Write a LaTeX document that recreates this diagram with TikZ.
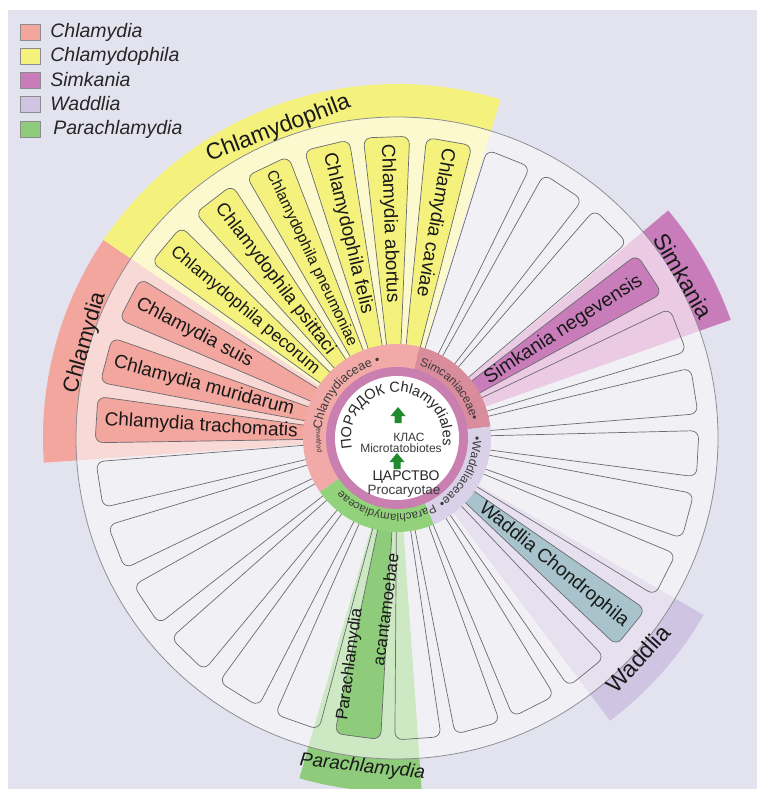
\documentclass[tikz,border=0pt]{standalone}
\usepackage{fontspec}
\setmainfont{Liberation Sans}
\usetikzlibrary{decorations.text,positioning}

\definecolor{bgcol}{HTML}{E3E3EF}
\definecolor{disccol}{HTML}{F1F1F5}
\definecolor{rimcol}{HTML}{8E8E96}
\definecolor{boxline}{HTML}{6A6A70}
\definecolor{chlcol}{HTML}{F2A69D}
\definecolor{chllight}{HTML}{F9D9D5}
\definecolor{phicol}{HTML}{F4F27C}
\definecolor{philight}{HTML}{FBF9CD}
\definecolor{simcol}{HTML}{C87DBA}
\definecolor{simlight}{HTML}{EBCBE4}
\definecolor{wadcol}{HTML}{CFC5E3}
\definecolor{wadlight}{HTML}{E7E1EF}
\definecolor{wadbox}{HTML}{A8C3CB}
\definecolor{parcol}{HTML}{8ECB7B}
\definecolor{parlight}{HTML}{CDE9C4}
\definecolor{ringcol}{HTML}{C97FB0}
\definecolor{famchl}{HTML}{F2AAA8}
\definecolor{famsim}{HTML}{D98C9C}
\definecolor{famwad}{HTML}{D9D1E7}
\definecolor{fampar}{HTML}{92D27A}
\definecolor{arrowgreen}{HTML}{1F8A2E}
\definecolor{labelgray}{HTML}{3A3A3A}

% annular piece: style, start angle, end angle, inner radius, outer radius
\newcommand\ringpart[5]{\path[#1] (#2:#4pt) arc[start angle=#2, end angle=#3, radius=#4pt]
  -- (#3:#5pt) arc[start angle=#3, end angle=#2, radius=#5pt] -- cycle;}
% one species box at a given angle
\newcommand\petal[2]{\draw[#1] ({#2-4.4}:80pt) -- ({#2-4.4}:302pt) -- ({#2+4.4}:302pt) -- ({#2+4.4}:80pt) -- cycle;}

\begin{document}
\begin{tikzpicture}[x=1pt, y=1pt]
\tikzset{
emptybox/.style={draw=boxline, line width=0.7pt, rounded corners=8pt},
chlbox/.style={emptybox, fill=chlcol},
phibox/.style={emptybox, fill=phicol},
simbox/.style={emptybox, fill=simcol},
wadbox/.style={emptybox, fill=wadbox},
parbox/.style={emptybox, fill=parcol},
sp/.style={font=\fontsize{19}{19}\selectfont, inner sep=0pt, text=black!90},
grp/.style={font=\fontsize{23}{23}\selectfont, inner sep=0pt, text=black!90},
famlabel/.style={decorate, decoration={text along path, text align=center}},
upmark/.style={fill=arrowgreen},
legbox/.style={draw=black!45, minimum width=20pt, minimum height=16pt, inner sep=0pt},
legtext/.style={font=\fontsize{19.5}{20}\selectfont\itshape, inner sep=0pt, text=black!85},
}
\useasboundingbox (0,0) rectangle (757,-789);
\fill[bgcol] (8,-10) rectangle (757,-789);

\begin{scope}[shift={(397,-438)}]
% disc
\fill[disccol] (0,0) circle[radius=321pt];
% light wedges and outer bands
\ringpart{fill=chllight}{146}{184}{80}{321}
\ringpart{fill=philight}{73}{146}{80}{321}
\ringpart{fill=simlight}{19.5}{40}{80}{321}
\ringpart{fill=wadlight}{-53}{-30}{80}{321}
\ringpart{fill=parlight}{-106}{-86}{80}{321}
\ringpart{fill=chlcol}{146}{184}{321}{354}
\ringpart{fill=phicol}{73}{146}{321}{354}
\ringpart{fill=simcol}{19.5}{40}{321}{354}
\ringpart{fill=wadcol}{-53}{-30}{321}{354}
\ringpart{fill=parcol}{-106}{-86}{321}{354}
\draw[rimcol, line width=0.8pt] (0,0) circle[radius=321pt];

% boxes
\foreach \a in {68.25,56.5,44.75,21,9,-3,-15,-27,-51,-63,-74.5,-86,-109.4,-121.7,-134.1,-146.4,-158.8,-171.1}
  {\petal{emptybox}{\a}}
\petal{chlbox}{176.5}
\petal{chlbox}{165}
\petal{chlbox}{152.5}
\petal{phibox}{140}
\petal{phibox}{127.5}
\petal{phibox}{115.5}
\petal{phibox}{103.5}
\petal{phibox}{92}
\petal{phibox}{80}
\petal{simbox}{33}
\petal{wadbox}{-39}
\petal{parbox}{-97.5}

% families, order, centre
\ringpart{fill=famchl}{76}{215}{70}{94}
\ringpart{fill=famsim}{7}{76}{70}{94}
\ringpart{fill=famwad}{-67}{7}{70}{94}
\ringpart{fill=fampar}{-145}{-67}{70}{94}
\fill[ringcol] (0,0) circle[radius=71pt];
\fill[white] (0,0) circle[radius=62pt];

\path[famlabel, decoration={text={|\fontsize{7}{7}\selectfont\color{labelgray}|родина}}]
  (196:77pt) arc[start angle=196, end angle=168, radius=77pt];
\path[famlabel, decoration={text={|\fontsize{12.5}{13}\selectfont\color{labelgray}|Chlamydiaceae •}}]
  (190:76pt) arc[start angle=190, end angle=86, radius=76pt];
\path[famlabel, decoration={text={|\fontsize{12}{12}\selectfont\color{labelgray}|Simcaniaceae•}}]
  (95:76pt) arc[start angle=95, end angle=-9, radius=76pt];
\path[famlabel, decoration={text={|\fontsize{12}{12}\selectfont\color{labelgray}|•Waddliaceae•}}]
  (24:76pt) arc[start angle=24, end angle=-80, radius=76pt];
\path[famlabel, decoration={text={|\fontsize{11.5}{12}\selectfont\color{labelgray}|Parachlamydiaceae}}]
  (-45:76pt) arc[start angle=-45, end angle=-153, radius=76pt];
\path[famlabel, decoration={text={|\fontsize{14.5}{15}\selectfont\color{black!85}|ПОРЯДОК Chlamydiales}}]
  (207:46pt) arc[start angle=207, end angle=-23, radius=46pt];

\fill[upmark] (1,23) ++(-3.5,-8) -- ++(7,0) -- ++(0,7) -- ++(4,0) -- ++(-7.5,9) -- ++(-7.5,-9) -- ++(4,0) -- cycle;
\fill[upmark] (0,-23) ++(-3.5,-8) -- ++(7,0) -- ++(0,7) -- ++(4,0) -- ++(-7.5,9) -- ++(-7.5,-9) -- ++(4,0) -- cycle;
\node[font=\fontsize{12}{12}\selectfont, text=labelgray] (klas) at (12,1) {КЛАС};
\node[font=\fontsize{12}{12}\selectfont, text=labelgray] (microt) at (4,-10) {Microtatobiotes};
\node[font=\fontsize{14}{14}\selectfont, text=black!85] (carstvo) at (9,-39) {ЦАРСТВО};
\node[font=\fontsize{13.5}{14}\selectfont, text=labelgray] (procar) at (7,-53) {Procaryotae};

% species
\node[sp, anchor=west, rotate=-3.5] (trachomatis) at (176.5:293pt) {Chlamydia trachomatis};
\node[sp, anchor=west, rotate=-15] (muridarum) at (165:293pt) {Chlamydia muridarum};
\node[sp, anchor=west, rotate=-27.5] (suis) at (152.5:293pt) {Chlamydia suis};
\node[sp, anchor=west, rotate=-40, font=\fontsize{17.5}{18}\selectfont] (pecorum) at (140:293pt) {Chlamydophila pecorum};
\node[sp, anchor=west, rotate=-52.5, font=\fontsize{18.5}{19}\selectfont] (psittaci) at (127.5:293pt) {Chlamydophila psittaci};
\node[sp, anchor=west, rotate=-64.5, font=\fontsize{15.5}{16}\selectfont] (pneumoniae) at (115.5:295pt) {Chlamydophila pneumoniae};
\node[sp, anchor=west, rotate=-76.5] (felis) at (103.5:293pt) {Chlamydophila felis};
\node[sp, anchor=west, rotate=-88] (abortus) at (92:294pt) {Chlamydia abortus};
\node[sp, anchor=west, rotate=-100] (caviae) at (80:294pt) {Chlamydia caviae};
\node[sp, anchor=east, rotate=33, font=\fontsize{19.5}{20}\selectfont] (negevensis) at (33:291pt) {Simkania negevensis};
\node[sp, anchor=east, rotate=-39] (chondrophila) at (-39:295pt) {Waddlia Chondrophila};
\node[sp, anchor=west, rotate=82.5, yshift=17pt, font=\fontsize{17}{17}\selectfont] (acanth1) at (-97.5:287pt) {Parachlamydia};
\node[sp, anchor=west, rotate=82.5, yshift=-11pt, font=\fontsize{17}{17}\selectfont] (acanth2) at (-97.5:228pt) {acantamoebae};

% genus labels
\node[grp, rotate=21] (lblphila) at (111:331pt) {Chlamydophila};
\node[grp, rotate=74, font=\fontsize{22}{22}\selectfont] (lblchl) at (163:326pt) {Chlamydia};
\node[grp, rotate=-60] (lblsim) at (29.5:329pt) {Simkania};
\node[grp, rotate=48] (lblwad) at (-42.5:327pt) {Waddlia};
\node[grp, rotate=-6, font=\fontsize{19}{19}\selectfont\itshape] (lblpar) at (-96:331pt) {Parachlamydia};
\end{scope}

% legend
\node[legbox, fill=chlcol] (keychl) at (30,-32) {};
\node[legbox, fill=phicol] (keyphi) at (30,-56) {};
\node[legbox, fill=simcol] (keysim) at (30,-80) {};
\node[legbox, fill=wadcol] (keywad) at (30,-104) {};
\node[legbox, fill=parcol] (keypar) at (30,-129) {};
\node[legtext, right=10pt of keychl] (txtchl) {Chlamydia};
\node[legtext, right=10pt of keyphi] (txtphi) {Chlamydophila};
\node[legtext, right=10pt of keysim] (txtsim) {Simkania};
\node[legtext, right=10pt of keywad] (txtwad) {Waddlia};
\node[legtext, right=13pt of keypar] (txtpar) {Parachlamydia};
\end{tikzpicture}
\end{document}
